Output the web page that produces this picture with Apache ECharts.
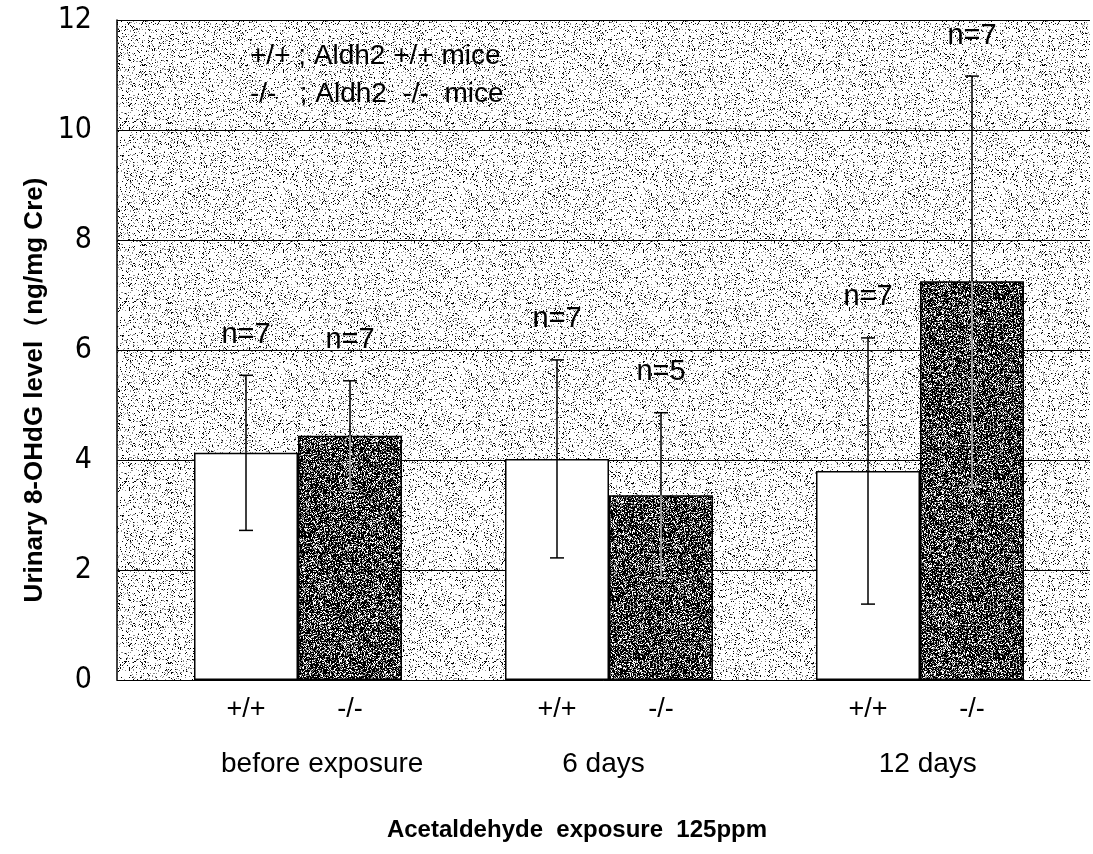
<!DOCTYPE html>
<html>
<head>
<meta charset="utf-8">
<script src="https://cdn.jsdelivr.net/npm/echarts@6/dist/echarts.min.js"></script>
<style>
    html, body { margin: 0; background: #fff; }
    #chart { width: 1093px; height: 854px; }
</style>
</head>
<body>
<div id="chart"></div>
<script>
    // 数据
    var groups = ['before exposure', '6 days', '12 days'];
    var genotypes = ['+/+', '-/-'];
    var wildMean = [4.13, 4.02, 3.80];
    var wildSd = [1.41, 1.80, 2.42];
    var wildN = [7, 7, 7];
    var koMean = [4.44, 3.36, 7.25];
    var koSd = [1.00, 1.50, 3.73];
    var koN = [7, 5, 7];
    var legendLines = ['+/+ ; Aldh2 +/+ mice', '-/-   ; Aldh2  -/-  mice'];
    var yTitle = 'Urinary 8-OHdG level（ng/mg Cre)';
    var xTitle = 'Acetaldehyde  exposure  125ppm';

    var halfBar = 52;
    var labelFont = 'Arial, "Liberation Sans", sans-serif';
    var narrowFont = '"Liberation Sans Narrow", "DejaVu Sans Condensed", Arial, sans-serif';

    // 纹理背景（只是底纹，不是数据）
    function makeTexture(base, dots, seed) {
        var c = document.createElement('canvas');
        c.width = 180;
        c.height = 180;
        var ctx = c.getContext('2d');
        ctx.fillStyle = base;
        ctx.fillRect(0, 0, 180, 180);
        function next() {
            seed = (seed * 1103515245 + 12345) & 0x7fffffff;
            return seed / 0x7fffffff;
        }
        for (var y = 0; y < 180; y++) {
            for (var x = 0; x < 180; x++) {
                var r = next();
                var acc = 0;
                for (var k = 0; k < dots.length; k++) {
                    acc += dots[k][1];
                    if (r < acc) {
                        ctx.fillStyle = dots[k][0];
                        ctx.fillRect(x, y, 1, 1);
                        break;
                    }
                }
            }
        }
        return c;
    }
    var bgTex = makeTexture('#ffffff', [['#000000', 0.06], ['#8a8a8a', 0.09]], 20231);
    var darkTex = makeTexture('#000000', [['#ffffff', 0.2], ['#8c8c8c', 0.2]], 777);

    function errData(mean, sd, n) {
        return mean.map(function (m, i) { return [i, m, sd[i], n[i]]; });
    }

    function errorItem(sign, innerColor) {
        return function (params, api) {
            var i = api.value(0), m = api.value(1), s = api.value(2), n = api.value(3);
            var c = api.coord([i, m]);
            var x = c[0] + sign * halfBar;
            var top = api.coord([i, m + s])[1];
            var bot = api.coord([i, m - s])[1];
            var mid = c[1];
            return {
                type: 'group',
                children: [
                    { type: 'line', shape: { x1: x, y1: mid, x2: x, y2: bot }, style: { stroke: innerColor, lineWidth: 1.5 } },
                    { type: 'line', shape: { x1: x - 7, y1: bot, x2: x + 7, y2: bot }, style: { stroke: innerColor, lineWidth: 1.5 } },
                    { type: 'line', shape: { x1: x, y1: mid, x2: x, y2: top }, style: { stroke: '#000', lineWidth: 1.5 } },
                    { type: 'line', shape: { x1: x - 7, y1: top, x2: x + 7, y2: top }, style: { stroke: '#000', lineWidth: 1.5 } },
                    {
                        type: 'text',
                        style: {
                            x: x, y: top - 26, text: 'n=' + n,
                            align: 'center', verticalAlign: 'bottom',
                            fontSize: 29, fontFamily: labelFont, fill: '#000'
                        }
                    }
                ]
            };
        };
    }

    var chart = echarts.init(document.getElementById('chart'));
    var option = {
        animation: false,
        grid: [
            { left: 117, right: 3, top: 20, bottom: 174, show: true, borderWidth: 0,
              backgroundColor: { image: bgTex, repeat: 'repeat' } },
            { left: 142.5, right: 17.5, top: 20, bottom: 174 }
        ],
        xAxis: [
            {
                gridIndex: 0, type: 'category',
                data: [{ value: groups[0], textStyle: { padding: [0, 0, 0, 86] } }, groups[1], groups[2]],
                axisLine: { lineStyle: { color: '#000', width: 1 } },
                axisTick: { show: false },
                axisLabel: { margin: 70, fontSize: 28, color: '#000', fontFamily: labelFont },
                splitLine: { show: false }
            },
            { gridIndex: 1, type: 'category', data: groups, show: false }
        ],
        yAxis: [
            {
                gridIndex: 0, type: 'value', min: 0, max: 12, interval: 2,
                axisLine: { show: true, lineStyle: { color: '#000', width: 1.5 } },
                axisTick: { show: false },
                axisLabel: { fontSize: 30, color: '#000', margin: 25, fontFamily: narrowFont },
                splitLine: { show: true, lineStyle: { color: '#000', width: 1 } }
            },
            { gridIndex: 1, type: 'value', min: 0, max: 12, interval: 2, show: false, splitLine: { show: false } }
        ],
        graphic: [
            { type: 'text', left: 250, top: 42, style: { text: legendLines[0], fontSize: 28, fontFamily: labelFont, fill: '#000' } },
            { type: 'text', left: 250, top: 80, style: { text: legendLines[1], fontSize: 28, fontFamily: labelFont, fill: '#000' } },
            { type: 'text', x: 35, y: 390, rotation: Math.PI / 2,
              style: { text: yTitle, align: 'center', verticalAlign: 'middle', fontSize: 26, fontWeight: 'bold', fontFamily: labelFont, fill: '#000' } },
            { type: 'text', x: 577, y: 830,
              style: { text: xTitle, align: 'center', verticalAlign: 'middle', fontSize: 24, fontWeight: 'bold', fontFamily: labelFont, fill: '#000' } }
        ],
        series: [
            {
                name: genotypes[0], type: 'bar', xAxisIndex: 1, yAxisIndex: 1,
                data: wildMean, barWidth: 104, barGap: '0%',
                itemStyle: { color: '#fff', borderColor: '#000', borderWidth: 1.5 },
                label: { show: true, position: 'bottom', distance: 16, formatter: genotypes[0],
                         fontSize: 27, color: '#000', fontFamily: labelFont }
            },
            {
                name: genotypes[1], type: 'bar', xAxisIndex: 1, yAxisIndex: 1,
                data: koMean, barWidth: 104,
                itemStyle: { color: { image: darkTex, repeat: 'repeat' }, borderColor: '#000', borderWidth: 1.5 },
                label: { show: true, position: 'bottom', distance: 16, formatter: genotypes[1],
                         fontSize: 27, color: '#000', fontFamily: labelFont }
            },
            {
                type: 'custom', xAxisIndex: 1, yAxisIndex: 1, z: 5,
                renderItem: errorItem(-1, '#000'),
                encode: { x: 0, y: 1 },
                data: errData(wildMean, wildSd, wildN)
            },
            {
                type: 'custom', xAxisIndex: 1, yAxisIndex: 1, z: 5,
                renderItem: errorItem(1, '#b8b8b8'),
                encode: { x: 0, y: 1 },
                data: errData(koMean, koSd, koN)
            }
        ]
    };
    chart.setOption(option);
</script>
</body>
</html>
